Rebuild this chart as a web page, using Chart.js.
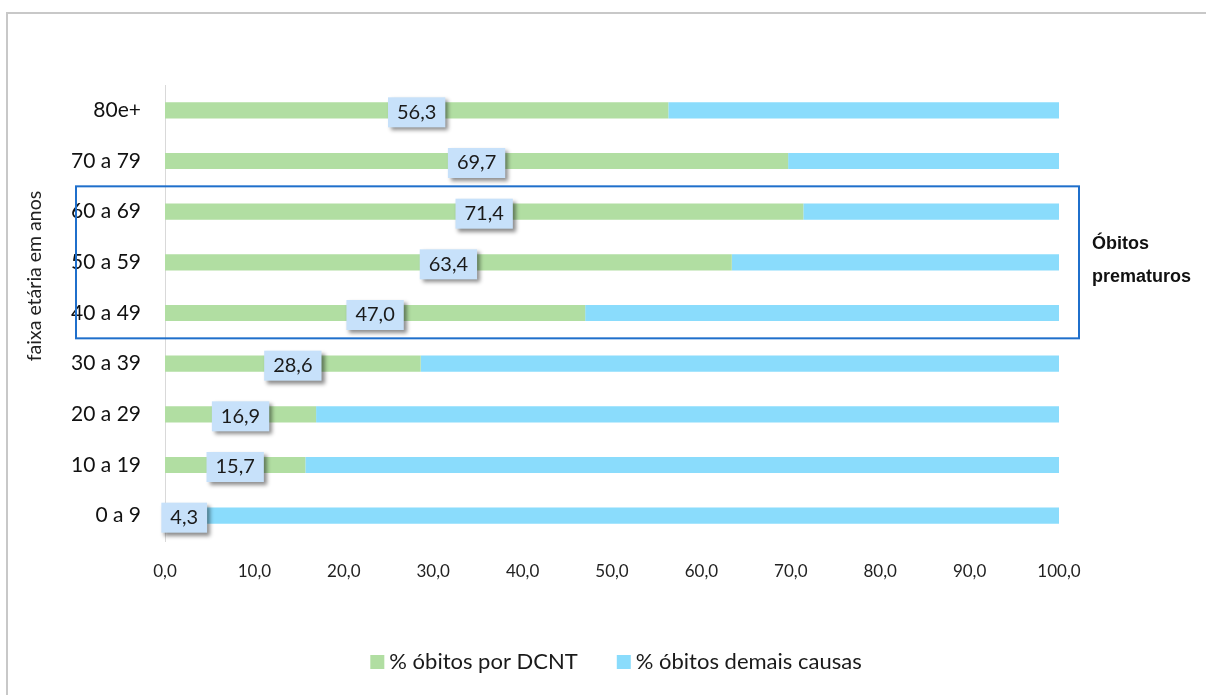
<!DOCTYPE html>
<html lang="pt">
<head>
  <meta charset="UTF-8">
  <title>Óbitos por DCNT por faixa etária</title>
  <script src="https://cdn.jsdelivr.net/npm/chart.js@4"></script>
  <style>
    body { margin: 0; background: #fff; }
    .frame { position: absolute; left: 6px; top: 12px; width: 1300px; height: 800px; border: 2px solid #c8c8c8; }
    .wrap { position: absolute; left: 0; top: 0; width: 1206px; height: 695px; }
  </style>
</head>
<body>
  <div class="frame"></div>
  <div class="wrap">
    <canvas id="chart"></canvas>
  </div>

  <script>
    // faixas etárias (de cima para baixo)
    const faixas = ['80e+', '70 a 79', '60 a 69', '50 a 59', '40 a 49', '30 a 39', '20 a 29', '10 a 19', '0 a 9'];
    const dcnt = [56.3, 69.7, 71.4, 63.4, 47.0, 28.6, 16.9, 15.7, 4.3];
    const demais = [43.7, 30.3, 28.6, 36.6, 53.0, 71.4, 83.1, 84.3, 95.7];
    const serieNomes = ['% óbitos por DCNT', '% óbitos demais causas'];
    const xTicks = [0, 10, 20, 30, 40, 50, 60, 70, 80, 90, 100];
    const eixoY = 'faixa etária em anos';
    const destaque = ['Óbitos', 'prematuros'];
    const destaqueFaixas = [2, 4]; // de 60 a 69 até 40 a 49

    const verde = '#b1dea2';
    const azul = '#8adcfc';
    const fonte = 'Lato, "Open Sans", sans-serif';

    const fmt = v => v.toFixed(1).replace('.', ',');

    // rótulos de dados, caixa, título do eixo e legenda
    const extras = {
      id: 'extras',
      afterDatasetsDraw(chart) {
        const c = chart.ctx;
        const x = chart.scales.x;
        const meta = chart.getDatasetMeta(0);
        c.save();
        c.font = '20px ' + fonte;
        meta.data.forEach((bar, i) => {
          const txt = fmt(dcnt[i]);
          const w = c.measureText(txt).width + 18;
          const cx = x.getPixelForValue(dcnt[i] / 2);
          const cy = bar.y + 2;
          c.save();
          c.shadowColor = 'rgba(0,0,0,0.45)';
          c.shadowBlur = 4;
          c.shadowOffsetX = 3;
          c.shadowOffsetY = 3;
          c.fillStyle = '#c7e1fa';
          c.fillRect(cx - w / 2, cy - 15, w, 30);
          c.restore();
          c.fillStyle = '#1a1a1a';
          c.textAlign = 'center';
          c.textBaseline = 'middle';
          c.fillText(txt, cx, cy);
        });
        c.restore();
      },
      afterDraw(chart) {
        const c = chart.ctx;
        const y = chart.scales.y;
        const area = chart.chartArea;
        const passo = y.getPixelForValue(1) - y.getPixelForValue(0);
        c.save();

        // caixa dos óbitos prematuros
        const top = y.getPixelForValue(destaqueFaixas[0]) - passo / 2;
        const bot = y.getPixelForValue(destaqueFaixas[1]) + passo / 2;
        c.strokeStyle = '#1f6fcb';
        c.lineWidth = 2;
        c.strokeRect(area.left - 89, top, area.right - area.left + 109, bot - top);

        c.fillStyle = '#111';
        c.font = 'bold 18px "Liberation Sans", Arial, sans-serif';
        c.textAlign = 'left';
        c.textBaseline = 'middle';
        c.fillText(destaque[0], area.right + 33, (top + bot) / 2 - 18);
        c.fillText(destaque[1], area.right + 33, (top + bot) / 2 + 15);

        // título do eixo y
        c.font = '19.5px ' + fonte;
        c.fillStyle = '#222';
        c.translate(35, 276);
        c.rotate(-Math.PI / 2);
        c.textAlign = 'center';
        c.fillText(eixoY, 0, 0);
        c.restore();

        // legenda
        c.save();
        c.font = '22px ' + fonte;
        c.textBaseline = 'middle';
        const cores = [verde, azul];
        const ws = serieNomes.map(t => c.measureText(t).width);
        const gap = 39;
        const total = ws[0] + ws[1] + 2 * 19 + gap;
        let lx = 616 - total / 2;
        const ly = 662;
        serieNomes.forEach((t, i) => {
          c.fillStyle = cores[i];
          c.fillRect(lx, ly - 7, 14, 14);
          c.fillStyle = '#1a1a1a';
          c.fillText(t, lx + 19, ly);
          lx += 19 + ws[i] + gap;
        });
        c.restore();
      }
    };

    new Chart(document.getElementById('chart'), {
      type: 'bar',
      data: {
        labels: faixas,
        datasets: [
          { label: serieNomes[0], data: dcnt, backgroundColor: verde, categoryPercentage: 1, barPercentage: 0.32 },
          { label: serieNomes[1], data: demais, backgroundColor: azul, categoryPercentage: 1, barPercentage: 0.32 }
        ]
      },
      options: {
        indexAxis: 'y',
        responsive: true,
        maintainAspectRatio: false,
        animation: false,
        layout: { padding: { top: 85, left: 0, right: 147, bottom: 114 } },
        plugins: {
          legend: { display: false },
          tooltip: { enabled: false }
        },
        scales: {
          x: {
            stacked: true,
            min: 0,
            max: 100,
            afterBuildTicks: s => { s.ticks = xTicks.map(v => ({ value: v })); },
            afterFit: s => { s.height = 40; },
            grid: { display: false },
            border: { display: false },
            ticks: {
              padding: 12,
              color: '#222',
              font: { family: fonte, size: 17 },
              callback: v => fmt(v)
            }
          },
          y: {
            stacked: true,
            afterFit: s => { s.width = 165; },
            grid: { display: false, drawTicks: false },
            border: { display: true, color: '#d9d9d9', width: 1 },
            ticks: {
              padding: 24,
              color: '#111',
              font: { family: fonte, size: 21 }
            }
          }
        }
      },
      plugins: [extras]
    });
  </script>
</body>
</html>
